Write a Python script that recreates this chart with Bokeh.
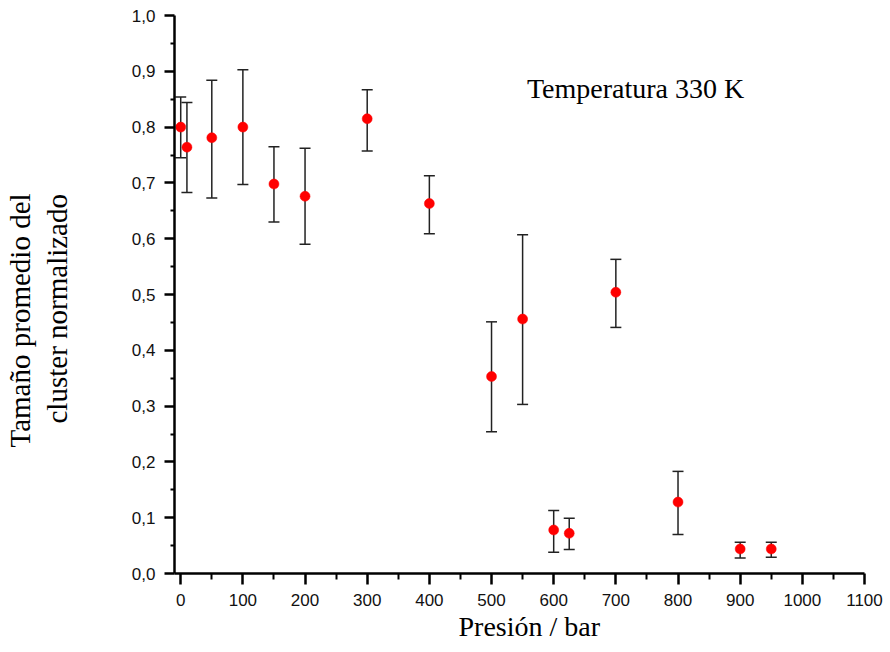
from bokeh.plotting import figure
from bokeh.models import (ColumnDataSource, Whisker, TeeHead, Range1d, FixedTicker,
                          CustomJSTickFormatter, Label, Title)
from bokeh.embed import file_html
from bokeh.resources import INLINE

# Data
pressure = [0, 10, 50, 100, 150, 200, 300, 400, 500, 550, 600, 625, 700, 800, 900, 950]
size_mean = [0.800, 0.764, 0.781, 0.800, 0.698, 0.676, 0.815, 0.663, 0.353, 0.456,
             0.078, 0.072, 0.504, 0.128, 0.044, 0.044]
size_upper = [0.854, 0.844, 0.884, 0.903, 0.765, 0.762, 0.867, 0.713, 0.451, 0.607,
              0.113, 0.099, 0.563, 0.183, 0.056, 0.056]
size_lower = [0.745, 0.683, 0.673, 0.697, 0.630, 0.590, 0.757, 0.609, 0.254, 0.303,
              0.038, 0.043, 0.441, 0.070, 0.028, 0.029]

x_ticks = [0, 100, 200, 300, 400, 500, 600, 700, 800, 900, 1000, 1100]
x_minor = [50, 150, 250, 350, 450, 550, 650, 750, 850, 950, 1050]
y_ticks = [0.0, 0.1, 0.2, 0.3, 0.4, 0.5, 0.6, 0.7, 0.8, 0.9, 1.0]
y_minor = [0.05, 0.15, 0.25, 0.35, 0.45, 0.55, 0.65, 0.75, 0.85, 0.95]

annotation_text = "Temperatura 330 K"
x_title = "Presión / bar"
y_title_lines = ["Tamaño promedio del", "cluster normalizado"]

src = ColumnDataSource(dict(x=pressure, y=size_mean, upper=size_upper, lower=size_lower))

p = figure(width=890, height=652, output_backend="svg", toolbar_location=None,
           x_range=Range1d(-10, 1100), y_range=Range1d(0, 1.0),
           min_border_left=174, min_border_right=26, min_border_top=15, min_border_bottom=79)

p.outline_line_color = None
p.grid.visible = False
p.background_fill_color = "white"
p.border_fill_color = "white"

serif = "Liberation Serif"

whisk = Whisker(source=src, base="x", upper="upper", lower="lower",
                line_color="#222222", line_width=1.5,
                upper_head=TeeHead(size=11, line_color="#222222", line_width=1.5),
                lower_head=TeeHead(size=11, line_color="#222222", line_width=1.5))
p.add_layout(whisk)

p.scatter("x", "y", source=src, size=10, marker="circle", fill_color="red",
          line_color="red", line_width=0.5)

fmt = CustomJSTickFormatter(code="return tick.toFixed(1).replace('.', ',');")
fmt_x = CustomJSTickFormatter(code="return tick.toFixed(0);")

xa = p.xaxis[0]
xa.ticker = FixedTicker(ticks=x_ticks, minor_ticks=x_minor)
xa.formatter = fmt_x
ya = p.yaxis[0]
ya.ticker = FixedTicker(ticks=y_ticks, minor_ticks=y_minor)
ya.formatter = fmt

for ax in (xa, ya):
    ax.axis_line_width = 2.5
    ax.axis_line_color = "black"
    ax.major_tick_line_width = 2.5
    ax.minor_tick_line_width = 2
    ax.major_tick_line_color = "black"
    ax.minor_tick_line_color = "black"
    ax.major_tick_in = 0
    ax.minor_tick_in = 0
    ax.major_label_text_font = "Liberation Sans"
    ax.major_label_text_font_size = "17px"
    ax.major_label_text_color = "#111111"

xa.major_tick_out = 11
xa.minor_tick_out = 6
xa.major_label_standoff = 9

ya.major_tick_out = 10
ya.minor_tick_out = 4
ya.major_label_standoff = 9
# blank spacer label: pushes the side titles outward
ya.axis_label = " "
ya.axis_label_text_font_size = "1px"
ya.axis_label_standoff = 48

# axis titles as side titles
def side_title(text, size, standoff, offset):
    return Title(text=text, text_font=serif, text_font_size=size, text_font_style="normal",
                 text_color="black", align="left", standoff=standoff, offset=offset)

p.add_layout(side_title(x_title, "28px", 0, 284), "below")
p.add_layout(side_title(y_title_lines[1], "29px", 7, 150), "left")
p.add_layout(side_title(y_title_lines[0], "29px", 0, 126), "left")

lbl = Label(x=557, y=0.87, text=annotation_text, text_font=serif,
            text_font_size="28px", text_color="black", text_baseline="middle")
p.add_layout(lbl)

open("out.html", "w").write(file_html(p, INLINE))
